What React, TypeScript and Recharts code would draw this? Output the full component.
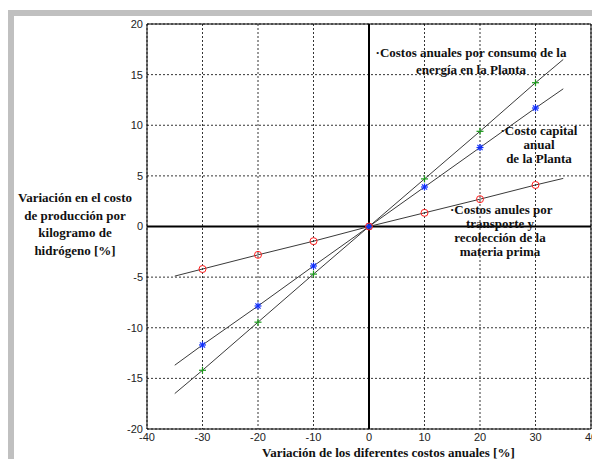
import React from 'react';
import {
  CartesianGrid,
  ComposedChart,
  Line,
  ReferenceLine,
  XAxis,
  YAxis,
} from 'recharts';

// variación de cada costo anual [%]
const xValues = [-35, -30, -20, -10, 0, 10, 20, 30, 35];
const energia = [-16.5, -14.2, -9.45, -4.7, 0, 4.7, 9.4, 14.2, 16.5];
const capital = [-13.7, -11.7, -7.85, -3.9, 0, 3.9, 7.8, 11.7, 13.6];
const transporte = [-4.9, -4.2, -2.8, -1.45, 0, 1.35, 2.7, 4.1, 4.75];

const markerXs = [-30, -20, -10, 0, 10, 20, 30];
const xTicks = [-40, -30, -20, -10, 0, 10, 20, 30, 40];
const yTicks = [-20, -15, -10, -5, 0, 5, 10, 15, 20];

const data = xValues.map((x, i) => ({
  x,
  energia: energia[i],
  capital: capital[i],
  transporte: transporte[i],
}));

type Shape = 'plus' | 'star' | 'circle';

const makeDot = (shape: Shape, color: string) => (props: any) => {
  const { cx, cy, payload, index } = props;
  const key = `${shape}-${index}`;
  if (!markerXs.includes(payload.x)) return <g key={key} />;
  const s = 3.5;
  if (shape === 'circle') {
    return <circle key={key} cx={cx} cy={cy} r={3.5} fill="none" stroke={color} strokeWidth={1} />;
  }
  return (
    <g key={key} stroke={color} strokeWidth={1.2}>
      <line x1={cx - s} y1={cy} x2={cx + s} y2={cy} />
      <line x1={cx} y1={cy - s} x2={cx} y2={cy + s} />
      {shape === 'star' && (
        <>
          <line x1={cx - 2.6} y1={cy - 2.6} x2={cx + 2.6} y2={cy + 2.6} />
          <line x1={cx - 2.6} y1={cy + 2.6} x2={cx + 2.6} y2={cy - 2.6} />
        </>
      )}
    </g>
  );
};

const serif: React.CSSProperties = {
  position: 'absolute',
  fontFamily: '"Liberation Serif", serif',
  fontWeight: 'bold',
  fontSize: 13,
  color: '#111',
  textAlign: 'center',
  whiteSpace: 'nowrap',
};

const tickStyle = { fill: '#222', fontSize: 11, fontFamily: '"Liberation Sans", Arial, sans-serif' };

export default function App() {
  return (
    <div style={{ position: 'fixed', left: 0, top: 0, width: 592, height: 459, background: '#fff', overflow: 'hidden' }}>
      <div style={{ position: 'absolute', left: 8, top: 10, width: 584, height: 6, background: '#c0c0c0' }} />
      <div style={{ position: 'absolute', left: 8, top: 10, width: 6, height: 449, background: '#c0c0c0' }} />

      <div style={{ position: 'absolute', left: 0, top: 0 }}>
        <ComposedChart width={592} height={459} data={data} margin={{ top: 24, right: 1, bottom: 0, left: 0 }}>
          <CartesianGrid stroke="#000" strokeDasharray="2 2" strokeWidth={0.8} />
          <XAxis
            dataKey="x"
            type="number"
            domain={[-40, 40]}
            ticks={xTicks}
            height={30}
            tickSize={0}
            tickMargin={4}
            tick={tickStyle}
            axisLine={{ stroke: '#000' }}
            interval={0}
          />
          <YAxis
            type="number"
            domain={[-20, 20]}
            ticks={yTicks}
            width={147}
            tickSize={0}
            tickMargin={4}
            tick={tickStyle}
            axisLine={{ stroke: '#000' }}
            interval={0}
          />
          <ReferenceLine y={20} stroke="#000" />
          <ReferenceLine x={40} stroke="#000" />
          <ReferenceLine x={0} stroke="#000" strokeWidth={2} />
          <ReferenceLine y={0} stroke="#000" strokeWidth={2} />
          <Line
            type="linear"
            dataKey="energia"
            stroke="#3a3a3a"
            strokeWidth={1}
            dot={makeDot('plus', '#1a9a1a')}
            activeDot={false}
            isAnimationActive={false}
          />
          <Line
            type="linear"
            dataKey="capital"
            stroke="#3a3a3a"
            strokeWidth={1}
            dot={makeDot('star', '#1030ff')}
            activeDot={false}
            isAnimationActive={false}
          />
          <Line
            type="linear"
            dataKey="transporte"
            stroke="#3a3a3a"
            strokeWidth={1}
            dot={makeDot('circle', '#ff2020')}
            activeDot={false}
            isAnimationActive={false}
          />
        </ComposedChart>
      </div>

      <div style={{ ...serif, left: 15, width: 120, top: 189, lineHeight: '17.5px' }}>
        Variación en el costo
        <br />
        de producción por
        <br />
        kilogramo de
        <br />
        hidrógeno [%]
      </div>

      <div style={{ ...serif, left: 262, width: 200, top: 445, lineHeight: '16px' }}>
        Variación de los diferentes costos anuales [%]
      </div>

      <div style={{ ...serif, left: 371, width: 200, top: 44, lineHeight: '17px' }}>
        ·Costos anuales por consumo de la
        <br />
        energía en la Planta
      </div>

      <div style={{ ...serif, left: 489, width: 100, top: 124, lineHeight: '14px' }}>
        ·Costo capital
        <br />
        anual
        <br />
        de la Planta
      </div>

      <div style={{ ...serif, left: 450, width: 100, top: 203, lineHeight: '14px' }}>
        ·Costos anules por
        <br />
        transporte y
        <br />
        recolección de la
        <br />
        materia prima
      </div>
    </div>
  );
}
